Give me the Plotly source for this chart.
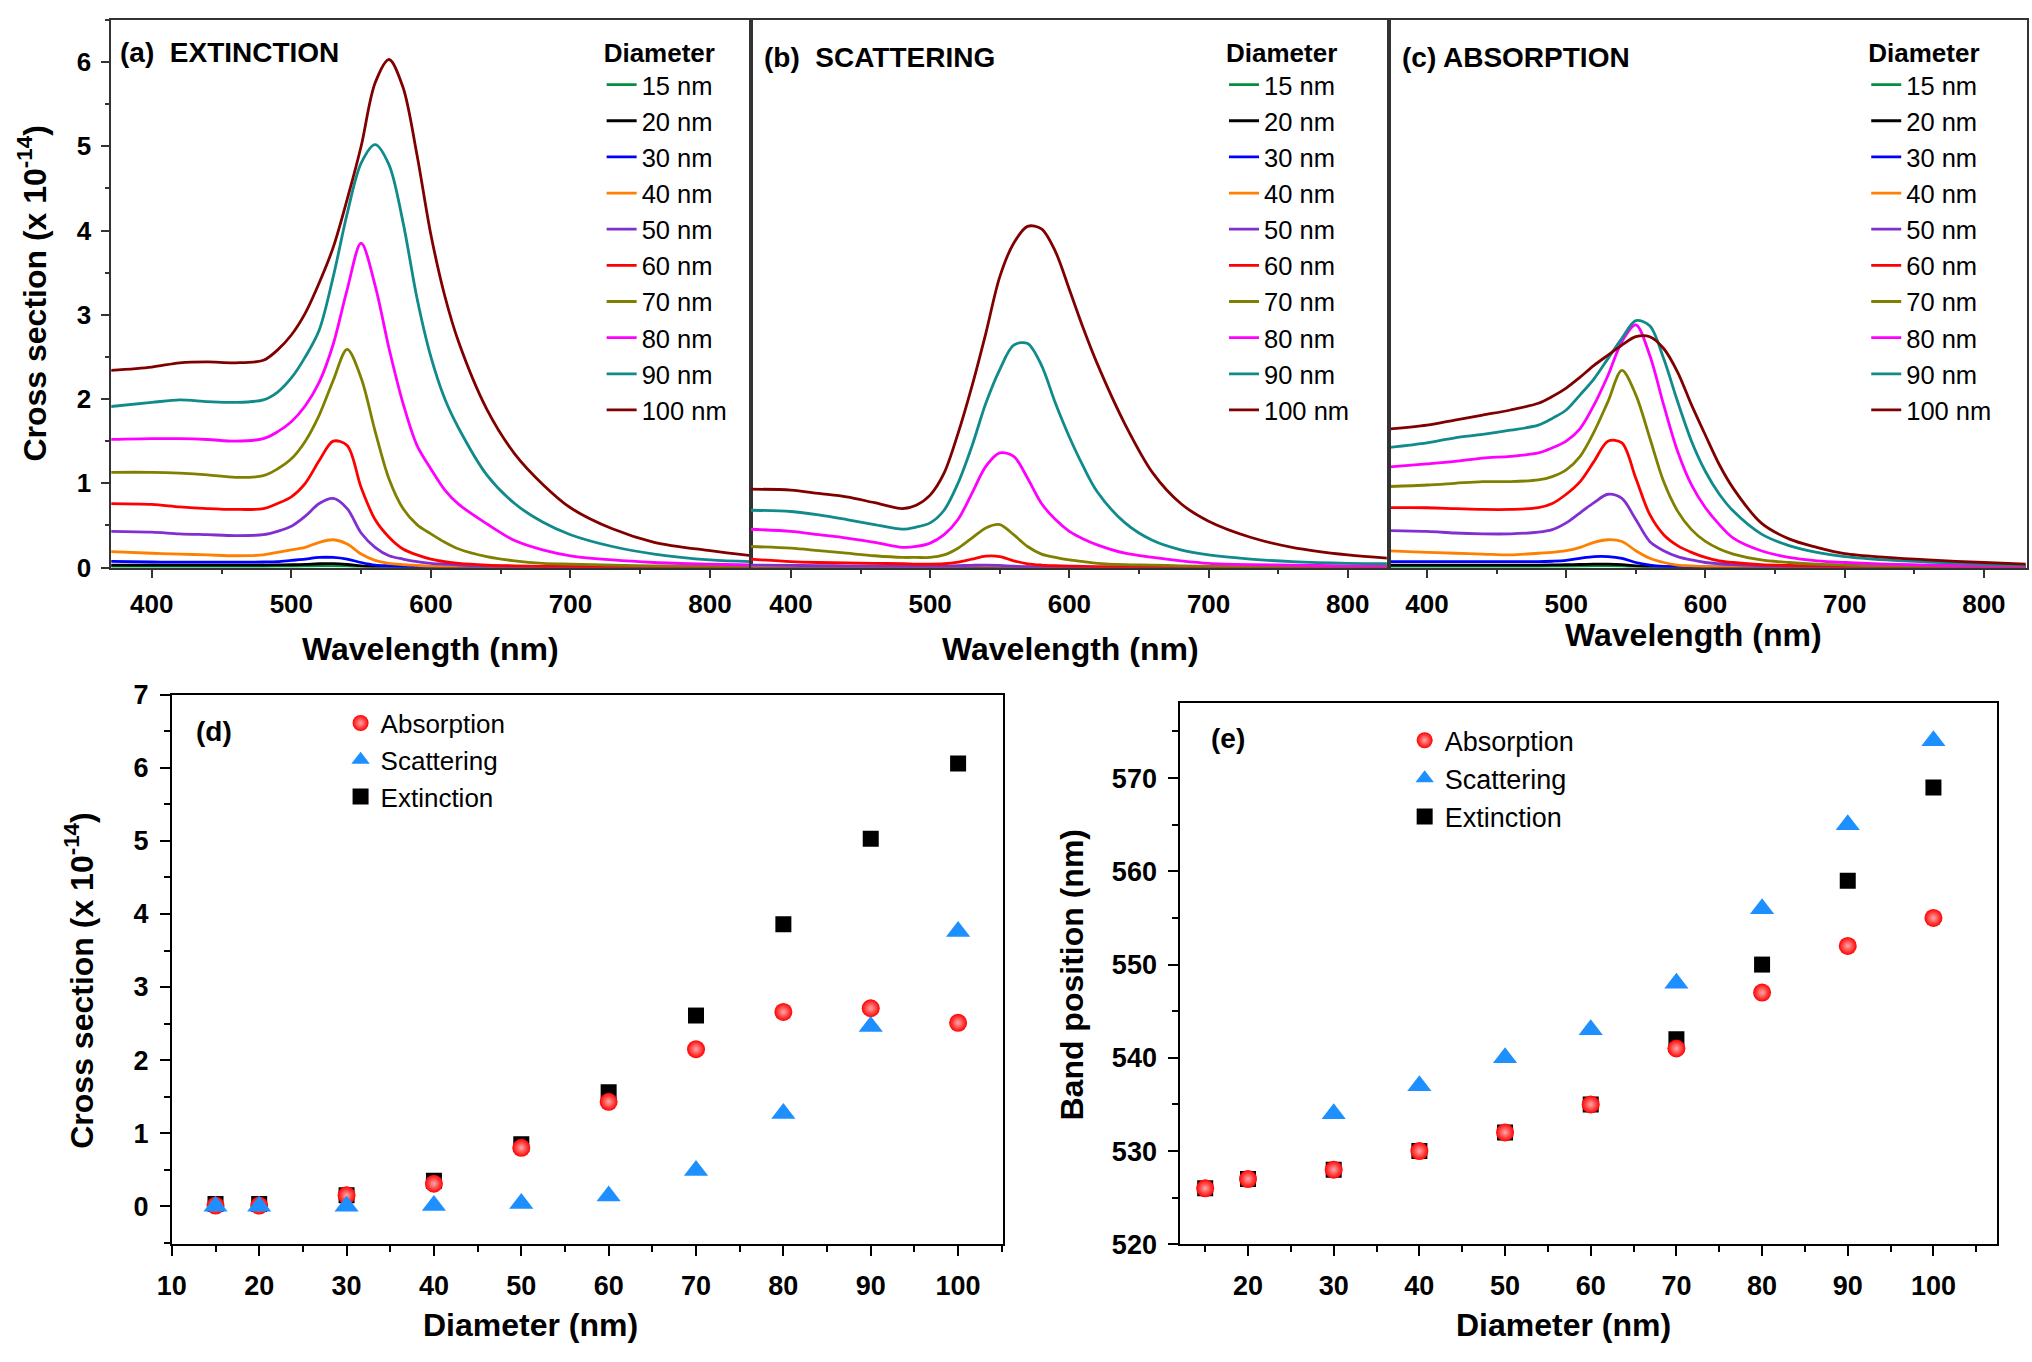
import plotly.graph_objects as go

# ---------------- data ----------------
W = [370, 400, 420, 440, 460, 480, 490, 500, 510, 520, 530, 540, 550, 560,
     570, 580, 590, 600, 610, 620, 640, 660, 680, 700, 730, 760, 800, 830]

DIAMS = [15, 20, 30, 40, 50, 60, 70, 80, 90, 100]
COLORS = ["#009040", "#000000", "#0000FF", "#FF8000", "#8030D0",
          "#FF0000", "#808000", "#FF00FF", "#108A8A", "#800000"]

extinction = {
    15: [0.012,0.012,0.012,0.012,0.012,0.012,0.013,0.014,0.016,0.02,0.02,0.016,0.009,0.005,0.004,0.003,0.003,0.003,0.003,0.003,0.003,0.003,0.003,0.003,0.003,0.003,0.003,0.003],
    20: [0.03,0.03,0.03,0.03,0.03,0.03,0.031,0.033,0.037,0.045,0.046,0.036,0.02,0.01,0.007,0.006,0.005,0.005,0.005,0.005,0.005,0.005,0.005,0.005,0.005,0.005,0.005,0.005],
    30: [0.074,0.066,0.065,0.065,0.065,0.066,0.07,0.085,0.10,0.12,0.12,0.10,0.06,0.03,0.02,0.012,0.009,0.007,0.006,0.005,0.005,0.005,0.005,0.005,0.005,0.005,0.005,0.005],
    40: [0.19,0.17,0.16,0.15,0.14,0.15,0.18,0.21,0.24,0.30,0.33,0.28,0.16,0.085,0.05,0.035,0.025,0.015,0.012,0.01,0.008,0.007,0.006,0.005,0.005,0.005,0.005,0.005],
    50: [0.43,0.42,0.40,0.39,0.38,0.39,0.43,0.49,0.61,0.76,0.82,0.70,0.41,0.24,0.14,0.10,0.07,0.05,0.04,0.03,0.02,0.015,0.012,0.01,0.01,0.01,0.01,0.01],
    60: [0.76,0.75,0.72,0.70,0.69,0.70,0.76,0.84,1.00,1.27,1.50,1.45,0.95,0.57,0.36,0.22,0.15,0.10,0.07,0.05,0.03,0.02,0.015,0.012,0.01,0.01,0.01,0.01],
    70: [1.13,1.13,1.12,1.10,1.07,1.09,1.17,1.29,1.50,1.81,2.22,2.59,2.25,1.62,1.05,0.70,0.51,0.40,0.30,0.22,0.13,0.08,0.05,0.04,0.03,0.02,0.015,0.01],
    80: [1.52,1.53,1.53,1.52,1.50,1.53,1.61,1.73,1.92,2.20,2.65,3.30,3.85,3.35,2.60,1.95,1.45,1.17,0.92,0.75,0.52,0.32,0.21,0.14,0.09,0.06,0.04,0.03],
    90: [1.91,1.96,1.99,1.97,1.96,1.99,2.08,2.25,2.50,2.82,3.45,4.20,4.80,5.02,4.78,4.10,3.20,2.50,2.00,1.65,1.10,0.76,0.54,0.39,0.25,0.16,0.09,0.07],
    100: [2.34,2.38,2.43,2.44,2.43,2.46,2.58,2.76,3.02,3.38,3.80,4.37,5.00,5.75,6.03,5.70,4.90,3.95,3.22,2.67,1.88,1.35,0.99,0.71,0.46,0.30,0.20,0.14],
}

scattering = {
    15: [0.001]*28,
    20: [0.002,0.002,0.002,0.002,0.002,0.002,0.002,0.002,0.002,0.003,0.003,0.003,0.002,0.002,0.001,0.001,0.001,0.001,0.001,0.001,0.001,0.001,0.001,0.001,0.001,0.001,0.001,0.001],
    30: [0.005,0.005,0.005,0.005,0.005,0.005,0.005,0.005,0.006,0.007,0.008,0.008,0.007,0.005,0.003,0.002,0.002,0.002,0.002,0.002,0.002,0.002,0.002,0.002,0.002,0.002,0.002,0.002],
    40: [0.012,0.011,0.010,0.010,0.009,0.009,0.009,0.009,0.010,0.012,0.014,0.014,0.012,0.008,0.005,0.004,0.003,0.003,0.002,0.002,0.002,0.002,0.002,0.002,0.002,0.002,0.002,0.002],
    50: [0.03,0.025,0.023,0.021,0.019,0.017,0.016,0.016,0.018,0.022,0.027,0.03,0.026,0.016,0.01,0.007,0.005,0.004,0.004,0.003,0.003,0.003,0.003,0.003,0.003,0.003,0.003,0.003],
    60: [0.10,0.07,0.06,0.055,0.05,0.045,0.04,0.04,0.045,0.065,0.10,0.135,0.13,0.08,0.045,0.03,0.022,0.017,0.014,0.012,0.01,0.008,0.007,0.006,0.005,0.005,0.005,0.005],
    70: [0.25,0.23,0.20,0.17,0.14,0.12,0.12,0.12,0.15,0.23,0.35,0.47,0.51,0.39,0.25,0.16,0.12,0.09,0.07,0.05,0.035,0.03,0.02,0.015,0.012,0.01,0.01,0.01],
    80: [0.455,0.43,0.39,0.35,0.30,0.24,0.25,0.29,0.39,0.57,0.88,1.20,1.36,1.32,1.06,0.76,0.57,0.43,0.34,0.27,0.17,0.12,0.08,0.05,0.035,0.03,0.02,0.02],
    90: [0.68,0.665,0.625,0.57,0.51,0.455,0.48,0.53,0.68,1.00,1.44,1.95,2.35,2.64,2.66,2.40,1.95,1.55,1.20,0.90,0.53,0.32,0.21,0.15,0.10,0.07,0.05,0.045],
    100: [0.93,0.92,0.88,0.84,0.77,0.70,0.74,0.86,1.12,1.59,2.15,2.78,3.45,3.85,4.05,4.02,3.75,3.30,2.84,2.42,1.70,1.12,0.76,0.55,0.36,0.24,0.15,0.11],
}

absorption = {
    15: [0.012,0.012,0.012,0.012,0.012,0.012,0.013,0.014,0.016,0.02,0.02,0.016,0.009,0.005,0.004,0.003,0.003,0.003,0.003,0.003,0.003,0.003,0.003,0.003,0.003,0.003,0.003,0.003],
    20: [0.03,0.03,0.03,0.03,0.03,0.03,0.031,0.033,0.036,0.04,0.04,0.035,0.02,0.01,0.007,0.006,0.005,0.005,0.005,0.005,0.005,0.005,0.005,0.005,0.005,0.005,0.005,0.005],
    30: [0.07,0.07,0.07,0.07,0.07,0.07,0.075,0.085,0.11,0.13,0.13,0.11,0.06,0.03,0.015,0.01,0.008,0.006,0.005,0.005,0.005,0.005,0.005,0.005,0.005,0.005,0.005,0.005],
    40: [0.20,0.18,0.17,0.16,0.15,0.17,0.18,0.20,0.24,0.30,0.33,0.31,0.20,0.11,0.06,0.03,0.02,0.01,0.008,0.007,0.006,0.005,0.005,0.005,0.005,0.005,0.005,0.005],
    50: [0.44,0.43,0.41,0.40,0.40,0.42,0.45,0.53,0.65,0.77,0.87,0.82,0.57,0.31,0.20,0.13,0.09,0.06,0.045,0.035,0.02,0.015,0.012,0.01,0.01,0.01,0.01,0.01],
    60: [0.71,0.71,0.70,0.69,0.69,0.71,0.76,0.87,1.02,1.26,1.50,1.48,1.06,0.63,0.39,0.26,0.18,0.12,0.08,0.06,0.035,0.025,0.02,0.015,0.012,0.01,0.01,0.01],
    70: [0.96,0.98,1.00,1.02,1.02,1.04,1.08,1.16,1.32,1.61,1.97,2.34,2.05,1.54,1.02,0.67,0.45,0.31,0.22,0.16,0.09,0.06,0.04,0.03,0.02,0.015,0.01,0.01],
    80: [1.19,1.23,1.26,1.30,1.32,1.36,1.42,1.50,1.65,1.93,2.28,2.68,2.88,2.52,1.93,1.38,0.98,0.71,0.51,0.35,0.20,0.12,0.08,0.06,0.04,0.03,0.02,0.015],
    90: [1.42,1.48,1.54,1.58,1.63,1.69,1.77,1.87,2.05,2.24,2.48,2.72,2.93,2.87,2.48,1.97,1.50,1.14,0.87,0.67,0.40,0.26,0.18,0.13,0.09,0.065,0.04,0.03],
    100: [1.64,1.69,1.75,1.81,1.87,1.95,2.03,2.13,2.26,2.40,2.52,2.64,2.74,2.74,2.60,2.32,1.93,1.57,1.22,0.94,0.53,0.34,0.24,0.165,0.12,0.09,0.06,0.04],
}

# panel (d): cross sections at the plasmon peak
D = [15, 20, 30, 40, 50, 60, 70, 80, 90, 100]
cs_abs = [0.01, 0.01, 0.15, 0.31, 0.80, 1.43, 2.15, 2.66, 2.71, 2.51]
cs_sca = [0.0, 0.0, 0.0, 0.01, 0.04, 0.14, 0.49, 1.27, 2.46, 3.76]
cs_ext = [0.03, 0.03, 0.15, 0.35, 0.85, 1.56, 2.61, 3.86, 5.03, 6.06]

# panel (e): band positions
bp_abs = [526, 527, 528, 530, 532, 535, 541, 547, 552, 555]
D_sca = [30, 40, 50, 60, 70, 80, 90, 100]
bp_sca = [534, 537, 540, 543, 548, 556, 565, 574]
bp_ext = [526, 527, 528, 530, 532, 535, 542, 550, 559, 569]

# ---------------- layout helpers ----------------
FW, FH = 2032, 1362
FONT = "Liberation Sans, Arial, sans-serif"


def fx(p):
    return p / FW


def fy(p):
    return 1 - p / FH


fig = go.Figure()

spectra = [(extinction, "x", "y", "legend"),
           (scattering, "x2", "y2", "legend2"),
           (absorption, "x3", "y3", "legend3")]

for data, xa, ya, lg in spectra:
    for d, c in zip(DIAMS, COLORS):
        fig.add_trace(go.Scatter(
            x=W, y=data[d], mode="lines", name=f"{d} nm",
            line=dict(color=c, width=2.8, shape="spline", smoothing=0.9),
            xaxis=xa, yaxis=ya, legend=lg, hoverinfo="skip"))

marker_abs = dict(symbol="circle", size=18, color="#FF0000",
                  gradient=dict(type="radial", color="#ffa8a8"), line=dict(width=0))
marker_sca = dict(symbol="triangle-up", size=21, color="#1E8FFF", line=dict(width=0))
marker_ext = dict(symbol="square", size=16, color="#000000", line=dict(width=0))

for xa, ya, lg, ext_y, abs_y, sca_x, sca_y in [
        ("x4", "y4", "legend4", cs_ext, cs_abs, D, cs_sca),
        ("x5", "y5", "legend5", bp_ext, bp_abs, D_sca, bp_sca)]:
    fig.add_trace(go.Scatter(x=D, y=ext_y, mode="markers", name="Extinction",
                             marker=marker_ext, xaxis=xa, yaxis=ya, legend=lg,
                             legendrank=3))
    fig.add_trace(go.Scatter(x=D, y=abs_y, mode="markers", name="Absorption",
                             marker=marker_abs, xaxis=xa, yaxis=ya, legend=lg,
                             legendrank=1))
    fig.add_trace(go.Scatter(x=sca_x, y=sca_y, mode="markers", name="Scattering",
                             marker=marker_sca, xaxis=xa, yaxis=ya, legend=lg,
                             legendrank=2))

# ---------------- axes ----------------
TOPC = "#333333"
top_tick_font = dict(family=FONT, size=26, color="black", weight="bold")
low_tick_font = dict(family=FONT, size=27, color="black", weight="bold")


def top_x(domain, anchor, rng):
    return dict(domain=domain, anchor=anchor, range=rng,
                tick0=400, dtick=100, ticks="outside", ticklen=9, tickwidth=1.5,
                tickcolor=TOPC, minor=dict(dtick=50, ticks="outside", ticklen=5,
                                           tickwidth=1.5, tickcolor=TOPC),
                showline=True, mirror=True, linecolor=TOPC, linewidth=1.5,
                showgrid=False, zeroline=False, tickfont=top_tick_font,
                ticklabelstandoff=3)


def top_y(anchor, labels):
    d = dict(domain=[fy(565), fy(5)], anchor=anchor, range=[0, 6.5],
             showline=True, mirror=True, linecolor=TOPC, linewidth=1.5,
             showgrid=False, zeroline=False)
    if labels:
        d.update(tick0=0, dtick=1, ticks="outside", ticklen=9, tickwidth=1.5,
                 tickcolor=TOPC, minor=dict(dtick=0.5, ticks="outside", ticklen=5,
                                            tickwidth=1.5, tickcolor=TOPC),
                 tickfont=top_tick_font, ticklabelstandoff=4)
    else:
        d.update(showticklabels=False, ticks="")
    return d


def low_axis(domain, anchor, rng, tick0, dtick, mdtick):
    return dict(domain=domain, anchor=anchor, range=rng, tick0=tick0, dtick=dtick,
                ticks="outside", ticklen=10, tickwidth=2, tickcolor="black",
                minor=dict(dtick=mdtick, ticks="outside", ticklen=6, tickwidth=2,
                           tickcolor="black"),
                showline=True, mirror=True, linecolor="black", linewidth=2,
                showgrid=False, zeroline=False, tickfont=low_tick_font,
                ticklabelstandoff=6)


fig.update_layout(
    width=FW, height=FH, margin=dict(l=0, r=0, t=0, b=0),
    paper_bgcolor="white", plot_bgcolor="white", showlegend=True,
    xaxis=top_x([fx(97), fx(741)], "y", [371, 829]),
    yaxis=top_y("x", True),
    xaxis2=top_x([fx(741), fx(1382)], "y2", [371, 828]),
    yaxis2=top_y("x2", False),
    xaxis3=top_x([fx(1386), fx(2027)], "y3", [374, 831]),
    yaxis3=top_y("x3", False),
    xaxis4=low_axis([fx(158), fx(995)], "y4", [10, 105.1], 10, 10, 5),
    yaxis4=low_axis([fy(1257), fy(695)], "x4", [-0.52, 7], 0, 1, 0.5),
    xaxis5=low_axis([fx(1174), fx(1997)], "y5", [12.1, 107.45], 0, 10, 5),
    yaxis5=low_axis([fy(1257), fy(704)], "x5", [520, 578], 520, 10, 5),
)


def top_legend(xpx):
    return dict(x=fx(xpx), y=fy(13), xanchor="left", yanchor="top",
                bgcolor="rgba(0,0,0,0)", borderwidth=0, tracegroupgap=0,
                font=dict(family=FONT, size=25.5, color="black"),
                title=dict(text="Diameter", font=dict(family=FONT, size=26,
                                                      color="black", weight="bold")))


def low_legend(xpx, ypx, size):
    return dict(x=fx(xpx), y=fy(ypx), xanchor="left", yanchor="top",
                bgcolor="rgba(0,0,0,0)", borderwidth=0, tracegroupgap=0,
                itemsizing="trace",
                font=dict(family=FONT, size=size, color="black"))


fig.update_layout(
    legend=top_legend(591),
    legend2=top_legend(1218),
    legend3=top_legend(1865),
    legend4=low_legend(328, 700, 26),
    legend5=low_legend(1400, 717, 27),
)

# ---------------- text ----------------
ann = []


def add_text(text, xpx, ypx, size, xanchor="center", angle=0, bold=True):
    ann.append(dict(text=f"<b>{text}</b>" if bold else text,
                    x=fx(xpx), y=fy(ypx), xref="paper", yref="paper",
                    xanchor=xanchor, yanchor="middle", showarrow=False,
                    textangle=angle,
                    font=dict(family=FONT, size=size, color="black")))


add_text("(a)\u00a0\u00a0EXTINCTION", 104, 38, 28, "left")
add_text("(b)\u00a0\u00a0SCATTERING", 753, 43, 28, "left")
add_text("(c) ABSORPTION", 1395, 43, 28, "left")
add_text("(d)", 180, 733, 28, "left")
add_text("(e)", 1203, 740, 28, "left")

add_text("Wavelength (nm)", 419, 648, 32)
add_text("Wavelength (nm)", 1063, 648, 32)
add_text("Wavelength (nm)", 1691, 634, 32)
add_text("Cross section (x 10<sup>-14</sup>)", 17, 285, 32, angle=-90)
add_text("Cross section (x 10<sup>-14</sup>)", 65, 988, 32, angle=-90)
add_text("Diameter (nm)", 519, 1339, 32)
add_text("Diameter (nm)", 1560, 1339, 32)
add_text("Band position (nm)", 1065, 981, 32, angle=-90)

fig.update_layout(annotations=ann)

fig.write_html("out.html", config={"displayModeBar": False},
               post_script="document.body.style.margin='0px';")
